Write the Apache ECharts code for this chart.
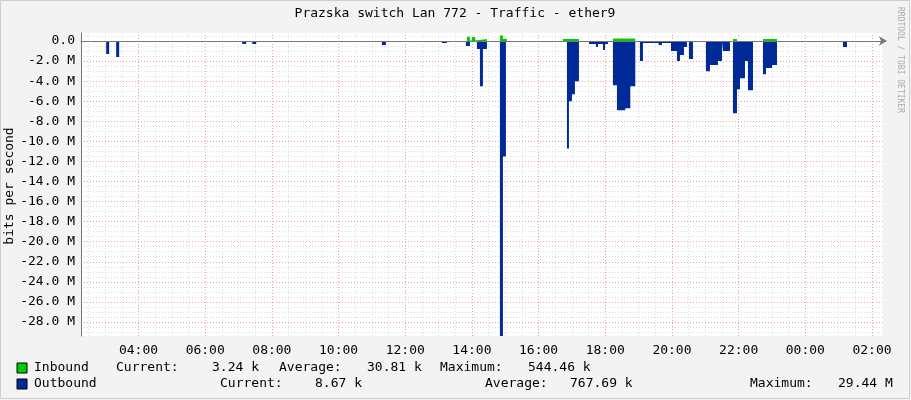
<!DOCTYPE html>
<html><head><meta charset="utf-8">
<script src="https://cdn.jsdelivr.net/npm/echarts@6/dist/echarts.min.js"></script>
<style>html,body{margin:0;padding:0;background:#F3F3F3}#c{width:911px;height:400px}</style>
</head><body><div id="c"></div>
<script>
const outbound = [[2.3,0],[3.03,-1.3],[3.12,-0.1],[3.33,-1.6],[3.42,-0.1],[3.51,0],
[4.61,-0.1],[4.83,0],[7.11,-0.3],[7.23,0],[7.41,-0.3],[7.53,0],
[11.3,-0.4],[11.42,0],[11.9,-0.1],[12.05,0],[13.1,-0.2],[13.25,0],
[13.55,-0.1],[13.82,-0.5],[13.94,-0.1],[14.15,-0.8],[14.24,-4.5],[14.33,-0.8],[14.45,-0.1],[14.84,-29.4],[14.93,-11.5],[15.02,-0.1],[15.14,0],
[16.04,-0.1],[16.13,0],[16.73,-0.1],[16.85,-10.7],[16.91,-6.0],[17.0,-5.3],[17.09,-4.0],[17.21,0],
[17.51,-0.3],[17.72,-0.6],[17.78,-0.3],[17.93,-0.9],[17.99,-0.3],[18.08,0],
[18.23,-4.4],[18.35,-6.9],[18.6,-6.7],[18.75,-4.5],[18.9,-0.1],
[19.04,-2.0],[19.13,-0.2],[19.6,-0.4],[19.7,-0.2],[19.97,-1.0],[20.15,-2.0],[20.24,-1.4],[20.36,-0.6],[20.45,-0.1],[20.51,-1.8],[20.63,-0.1],
[21.02,-3.0],[21.14,-2.4],[21.38,-2.0],[21.5,-0.1],[21.53,-1.0],[21.74,-0.1],[21.83,-7.2],[21.95,-4.8],[22.04,-3.7],[22.19,-2.0],[22.28,-4.9],[22.43,0],
[22.73,-3.3],[22.82,-2.7],[23.0,-2.4],[23.15,0],[23.45,-0.1],[23.54,0],[25.13,-0.6],[25.25,0],[26.3,0]];
const inbound = [[13.85,0],[13.85,0.43],[13.94,0.05],[14.0,0.4],[14.1,0.05],[14.15,0.2],[14.45,0],[14.45,null],
[14.84,0],[14.84,0.54],[14.93,0.2],[15.05,0],[15.05,null],
[16.73,0],[16.73,0.2],[17.21,0],[17.21,null],
[18.23,0],[18.23,0.25],[18.9,0],[18.9,null],
[21.83,0],[21.83,0.2],[21.95,0],[21.95,null],
[22.73,0],[22.73,0.2],[23.15,0]];
const xTicks = [4,6,8,10,12,14,16,18,20,22,24,26];
const yTicks = [0,-2,-4,-6,-8,-10,-12,-14,-16,-18,-20,-22,-24,-26,-28];
const xMinor = []; for (let h=2.5; h<26.33; h+=0.5) if (h%2!==0) xMinor.push(h);
const yMinor = []; for (let v=0.5; v>-29.4; v-=0.5) if (v%2!==0) yMinor.push(v);
const legendRows = [
 {y:368, items:[[34,'Inbound'],[116,'Current:'],[212,'3.24 k'],[279,'Average:'],[367,'30.81 k'],[440,'Maximum:'],[528,'544.46 k']]},
 {y:384, items:[[34,'Outbound'],[220,'Current:'],[315,'8.67 k'],[485,'Average:'],[570,'767.69 k'],[750,'Maximum:'],[838,'29.44 M']]}
];
const F = '"DejaVu Sans Mono", monospace';
const ml = (arr, axis, color) => arr.map(v => ({[axis]: v, lineStyle:{color, type:[1,2], width:1}}));
const chart = echarts.init(document.getElementById('c'));
const graphic = [
 {type:'rect', shape:{x:0.5,y:0.5,width:909,height:398}, style:{fill:null, stroke:'#CFCFCF'}},
 {type:'text', x:455, y:14, style:{text:'Prazska switch Lan 772 - Traffic - ether9', font:'13px '+F, fill:'#000', align:'center', verticalAlign:'middle'}},
 {type:'text', x:10, y:186, rotation:Math.PI/2, style:{text:'bits per second', font:'13px '+F, fill:'#000', align:'center', verticalAlign:'middle'}},
 {type:'text', x:900, y:60, rotation:-Math.PI/2, style:{text:'RRDTOOL / TOBI OETIKER', font:'8px '+F, fill:'#AAAAAA', align:'center', verticalAlign:'middle'}},
 {type:'rect', shape:{x:17,y:363,width:10,height:10}, style:{fill:'#00CC00', stroke:'#000'}},
 {type:'rect', shape:{x:17,y:379,width:10,height:10}, style:{fill:'#002A97', stroke:'#000'}}
];
legendRows.forEach(r => r.items.forEach(([x,t]) => graphic.push({type:'text', x, y:r.y, style:{text:t, font:'13px '+F, fill:'#000', verticalAlign:'middle'}})));
chart.setOption({
 animation:false,
 backgroundColor:'#F3F3F3',
 grid:{left:81, right:28, top:33, bottom:64, show:true, backgroundColor:'#FFFFFF', borderWidth:0},
 graphic,
 xAxis:{type:'value', min:2.275, max:26.33, z:20,
  axisLine:{lineStyle:{color:'#777'}, symbol:['none','arrow'], symbolSize:[7,8], symbolOffset:[0,4]},
  axisTick:{show:false}, splitLine:{show:false},
  axisLabel:{customValues:xTicks, color:'#000', fontFamily:F, fontSize:13, margin:8, formatter:v=>String(Math.round(v)%24).padStart(2,'0')+':00'}},
 yAxis:{type:'value', min:-29.4, max:0.8, z:20,
  axisLine:{show:true, onZero:false, lineStyle:{color:'#777'}}, axisTick:{show:false}, splitLine:{show:false},
  axisLabel:{customValues:yTicks, color:'#000', fontFamily:F, fontSize:13, margin:6, formatter:v=>v===0?'0.0':v.toFixed(1)+' M'}},
 series:[
  {type:'line', z:1, silent:true, data:[], markLine:{z:1, silent:true, symbol:'none', label:{show:false}, animation:false,
    data:[...ml(xMinor,'xAxis','#DDDDDD'), ...ml(yMinor,'yAxis','#DDDDDD'), ...ml(xTicks,'xAxis','#F0A0A0'), ...ml(yTicks,'yAxis','#F0A0A0')]}},
  {name:'Outbound', type:'line', z:10, step:'end', data:outbound, symbol:'none', lineStyle:{width:0}, areaStyle:{color:'#002A97', opacity:1}},
  {name:'Inbound', type:'line', z:11, step:'end', connectNulls:false, data:inbound, symbol:'none', lineStyle:{width:0}, areaStyle:{color:'#00CC00', opacity:1}}
 ]
});
</script></body></html>
